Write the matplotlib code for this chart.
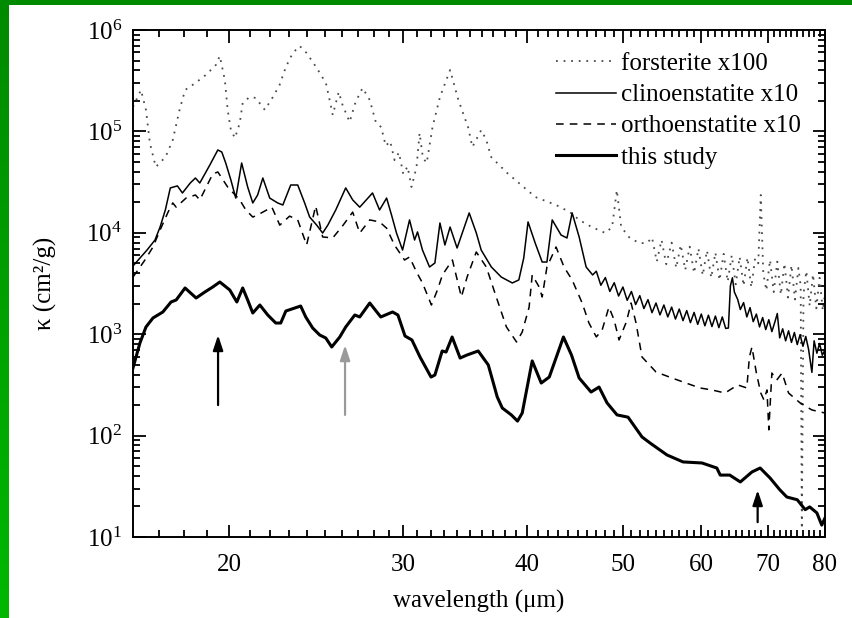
import numpy as np
import matplotlib
matplotlib.use("Agg")
import matplotlib.pyplot as plt
from matplotlib.colors import LinearSegmentedColormap
from matplotlib.ticker import FixedLocator, NullFormatter, FixedFormatter, LogLocator, LogFormatterSciNotation

plt.rcParams['font.family'] = ['Liberation Serif', 'DejaVu Serif']
plt.rcParams['mathtext.fontset'] = 'custom'
plt.rcParams['mathtext.rm'] = 'Liberation Serif'
plt.rcParams['mathtext.it'] = 'Liberation Serif:italic'

# ---- mass absorption coefficients (cm^2/g) versus wavelength (um) ----
this_wl = [16.0, 16.26, 16.49, 16.76, 17.15, 17.48, 17.69, 18.06, 18.53, 18.91, 19.26, 19.58,
           20.04, 20.37, 20.65, 20.89, 21.14, 21.49, 21.89, 22.30, 22.56, 22.83, 23.47, 23.63,
           23.91, 24.30, 24.70, 25.05, 25.40, 25.88, 26.24, 26.80, 27.11, 27.75, 28.47, 29.26,
           29.63, 30.12, 30.61, 31.19, 32.0, 32.29, 32.84, 33.14, 33.61, 34.24, 34.80, 35.71,
           36.56, 37.33, 37.77, 38.57, 39.13, 39.56, 40.49, 41.35, 42.13, 43.54, 44.36, 45.16,
           46.43, 47.30, 48.19, 49.32, 50.6, 52.27, 53.26, 55.4, 57.5, 60.1, 62.2, 62.7,
           64.1, 65.7, 67.5, 68.8, 70.4, 72.0, 73.2, 75.0, 76.4, 77.2, 78.5, 79.4, 80.0]
this_k = [465, 819, 1178, 1445, 1656, 2078, 2175, 2856, 2275, 2607, 2920, 3273,
          2728, 2078, 2856, 2175, 1618, 1941, 1546, 1289, 1289, 1693, 1854, 1897,
          1479, 1151, 982, 918, 748, 938, 1178, 1546, 1479, 2031, 1479, 1656,
          1546, 960, 877, 596, 378, 396, 683, 667, 938, 582, 624, 683,
          497, 240, 187, 160, 139, 167, 545, 330, 378, 938, 624, 370,
          269, 301, 210, 160, 152, 97, 84.5, 64.4, 55, 53.7, 47.9, 40.8,
          40.8, 34.9, 43.8, 47.9, 38.2, 29.3, 24.8, 23.3, 18.6, 19.8, 17.3, 13.1, 15.4]

clino_wl = [16.0, 16.26, 16.53, 16.84, 17.04, 17.25, 17.45, 17.74, 17.95, 18.28, 18.5, 18.69,
            19.13, 19.49, 19.67, 19.85, 20.09, 20.32, 20.60, 20.89, 21.14, 21.38, 21.64, 21.99,
            22.40, 22.67, 23.09, 23.47, 23.85, 24.13, 24.53, 24.87, 25.17, 25.64, 26.24, 26.67,
            27.11, 27.93, 28.39, 28.86, 29.19, 29.53, 29.95, 30.44, 30.80, 31.01, 31.37, 31.89,
            32.29, 32.67, 33.05, 33.45, 34.0, 34.97, 35.55, 35.96, 36.82, 37.68, 38.66, 39.25,
            39.7, 40.1, 40.77, 41.44, 41.9, 42.42, 42.9, 43.3, 43.9, 44.43, 45.16, 45.9, 46.6,
            47.0, 47.5, 48.0, 48.5, 49.0, 49.5, 50.0, 50.5, 51.0, 51.5, 52.0, 52.5, 53.0, 53.5,
            54.0, 54.5, 55.0, 55.5, 56.0, 56.5, 57.0, 57.5, 58.0, 58.5, 59.0, 59.5, 60.0, 60.5,
            61.0, 61.5, 62.0, 62.5, 63.0, 63.5, 63.9, 64.2, 64.5, 64.8, 65.3, 65.7, 66.2, 66.7,
            67.2, 67.7, 68.2, 68.7, 69.2, 69.7, 70.2, 70.7, 71.2, 71.6, 72.0, 72.5, 73.0, 73.5,
            74.0, 74.5, 75.0, 75.5, 76.0, 76.5, 77.0, 77.6, 78.0, 78.5, 79.0, 79.5, 80.0]
clino_k = [4710, 5640, 6760, 8490, 11400, 16800, 27700, 29000, 24700, 31000, 34700, 31000,
           46600, 65600, 62600, 48800, 33200, 22000, 48800, 28300, 19700, 23600, 34700, 22000,
           19700, 18800, 29600, 29600, 19700, 14300, 11900, 9950, 11900, 16800, 27700, 21100,
           17900, 24700, 16800, 22000, 15000, 9950, 6760, 13400, 8490, 10200, 6760, 4600,
           5040, 12500, 7580, 11400, 7080, 15700, 10000, 6760, 4600, 3660, 3200, 3430,
           5640, 12800, 7930, 5150, 5150, 13400, 11100, 9510, 8890, 15700, 9100, 4600, 3840,
           4180, 3040, 3620, 2640, 3220, 2380, 2920, 2160, 2640, 1960, 2400, 1790, 2190, 1630,
           2030, 1550, 1940, 1480, 1850, 1410, 1770, 1360, 1710, 1300, 1640, 1250, 1580, 1210,
           1540, 1190, 1510, 1160, 1480, 1140, 1150, 3000, 3600, 2600, 2200, 1750, 2050, 1480,
           1830, 1330, 1580, 1180, 1460, 1110, 1390, 1060, 1320, 1600, 920, 1130, 860, 1080,
           830, 1040, 790, 990, 760, 950, 710, 420, 860, 650, 810, 620, 700]

ortho_wl = [16.0, 16.45, 16.76, 17.04, 17.36, 17.55, 17.69, 18.1, 18.5, 18.69, 19.26, 19.49,
            19.94, 20.51, 20.8, 21.14, 21.38, 22.1, 22.51, 23.03, 23.47, 23.96, 24.47, 24.87,
            25.46, 26.05, 26.67, 27.11, 27.75, 28.39, 28.86, 29.39, 30.09, 30.44, 30.94, 31.37,
            32.03, 32.48, 32.86, 33.63, 34.34, 34.80, 35.55, 36.39, 37.24, 38.13, 39.04, 39.56,
            40.2, 40.49, 41.15, 41.44, 41.9, 42.8, 43.6, 44.43, 45.48, 46.2, 47.0, 47.64, 48.4,
            48.99, 49.55, 50.4, 50.96, 51.55, 52.27, 54.0, 56.04, 57.9, 59.8, 61.5, 63.4, 65.3,
            66.7, 67.1, 67.5, 68.2, 68.9, 69.4, 69.9, 70.2, 70.7, 71.5, 72.4, 73.5, 75.5, 77.6, 80.0]
ortho_k = [3660, 5390, 7240, 10650, 16000, 19700, 17900, 22000, 23600, 21100, 38000, 39800,
           28300, 21100, 16800, 14300, 15000, 17900, 11900, 14600, 13400, 7580, 18400, 9100,
           8900, 11700, 16000, 9950, 13400, 12800, 11100, 7580, 5390, 5770, 4100, 3200,
           1940, 2730, 3840, 5390, 2330, 3660, 6470, 4600, 2330, 1180, 838, 1050,
           1850, 3840, 2920, 2330, 4600, 7240, 4600, 3430, 2030, 1290, 940, 1100, 1850,
           1380, 877, 1320, 2030, 1290, 596, 424, 370, 330, 295, 282, 263, 316,
           295, 596, 748, 414, 263, 225, 282, 114, 414, 353, 414, 263, 210, 179, 167]

forst_wl = [16.0, 16.3, 16.49, 16.64, 16.87, 17.26, 17.55, 17.83, 18.06, 18.5, 18.95, 19.4,
            19.58, 19.81, 19.94, 20.09, 20.28, 20.51, 20.65, 20.98, 21.28, 21.74, 22.15, 22.5,
            22.83, 23.2, 23.58, 23.96, 24.53, 25.06, 25.34, 25.46, 25.82, 26.05, 26.48, 26.85,
            27.29, 27.75, 28.14, 28.5, 28.8, 29.1, 29.4, 29.7, 30.0, 30.3, 30.58, 30.94, 31.16,
            31.4, 31.68, 32.11, 32.67, 33.45, 34.1, 34.88, 35.23, 35.96, 36.39, 36.8, 38.2,
            39.25, 40.8, 42.8, 44.2, 45.16, 46.5, 48.0, 48.76, 49.3, 49.8, 50.8, 52.0, 52.9,
            53.5, 54.1, 54.7, 55.3, 56.0, 56.6, 57.2, 57.8, 58.4, 59.0, 59.6, 60.2, 60.8, 61.4,
            62.0, 62.6, 63.2, 63.8, 64.4, 65.0, 65.6, 66.2, 66.8, 67.4, 68.0, 68.5, 68.9, 69.3,
            69.8, 70.4, 71.0, 71.6, 72.2, 72.8, 73.4, 74.0, 74.6, 75.2, 75.6, 75.8, 76.1, 76.6,
            77.2, 77.8, 78.4, 79.0, 79.6, 80.0]
forst_k = [174000, 256000, 163000, 76900, 44600, 56000, 82300, 163000, 256000, 300000, 360000, 452000,
           554000, 321000, 163000, 103000, 86100, 121000, 191000, 218000, 214000, 163000, 218000, 287000,
           431000, 593000, 695000, 593000, 422000, 300000, 182000, 145000, 245000, 182000, 124000, 195000,
           268000, 204000, 124000, 110000, 72000, 80000, 52000, 62000, 38000, 45000, 28300, 44600, 96400,
           55000, 48800, 110000, 218000, 403000, 204000, 110000, 70200, 103000, 82300, 56000, 38900,
           31000, 22500, 18800, 16000, 13400, 11400, 9950, 11400, 26400, 11400, 8890, 7900, 7930,
           9000, 5200, 8500, 4900, 8000, 4500, 7600, 4300, 7300, 4000, 7000, 3800, 6700, 3600,
           6400, 3400, 6200, 3300, 6000, 3100, 5800, 3000, 5700, 2900, 5600, 5000, 23600, 4000,
           2700, 5400, 2600, 5200, 2450, 5000, 2300, 4800, 2200, 4500, 3000, 12, 2500, 4200,
           1900, 3900, 1800, 3600, 1700, 2500]

# arrows marking features: (wavelength, tail kappa, head kappa, colour)
arrow_wl = [19.5, 26.2, 68.4]
arrow_tail = [200, 160, 14]
arrow_head = [980, 780, 29]
arrow_col = ['black', '#9a9a9a', 'black']

x_major = [20, 30, 40, 50, 60, 70, 80]

fig = plt.figure(figsize=(8.52, 6.18), dpi=100)
fig.patch.set_facecolor('white')

# green frame strips along the left and top edges
side = fig.add_axes([0, 0, 8.5 / 852, 1])
grad = np.linspace(0, 1, 256).reshape(-1, 1)
gcmap = LinearSegmentedColormap.from_list('g', ['#00b800', '#008a00'])
side.imshow(grad, aspect='auto', cmap=gcmap, origin='lower', extent=[0, 1, 0, 1])
side.set_axis_off()
top = fig.add_axes([0, 1 - 4.5 / 618, 1, 4.5 / 618])
top.set_facecolor('#008a00')
top.set_xticks([]); top.set_yticks([])
for s in top.spines.values():
    s.set_visible(False)

ax = fig.add_axes([133 / 852, 1 - 537 / 618, (825 - 133) / 852, (537 - 30) / 618])

ax.plot(forst_wl, forst_k, color='#4a4a4a', lw=1.3, linestyle=(0, (1, 3.2)),
        label='forsterite x100')
ax.plot(clino_wl, clino_k, color='black', lw=1.1, label='clinoenstatite x10')
ax.plot(ortho_wl, ortho_k, color='black', lw=1.1, linestyle=(0, (5, 4)),
        label='orthoenstatite x10')
ax.plot(this_wl, this_k, color='black', lw=2.2, label='this study')

for wl, k0, k1, c in zip(arrow_wl, arrow_tail, arrow_head, arrow_col):
    ax.annotate('', xy=(wl, k1), xytext=(wl, k0),
                arrowprops=dict(arrowstyle='-|>,head_length=0.9,head_width=0.3',
                                color=c, lw=1.6, shrinkA=0, shrinkB=0))

ax.set_xscale('log')
ax.set_yscale('log')
ax.set_xlim(16, 80)
ax.set_ylim(10, 1e6)

ax.xaxis.set_major_locator(FixedLocator(x_major))
ax.xaxis.set_major_formatter(FixedFormatter([str(v) for v in x_major]))
ax.xaxis.set_minor_locator(FixedLocator([v for v in range(17, 80) if v not in x_major]))
ax.xaxis.set_minor_formatter(NullFormatter())
ax.yaxis.set_major_locator(LogLocator(base=10, numticks=10))
ax.yaxis.set_major_formatter(LogFormatterSciNotation())
ax.yaxis.set_minor_locator(LogLocator(base=10, subs=np.arange(2, 10), numticks=20))
ax.yaxis.set_minor_formatter(NullFormatter())

ax.tick_params(which='both', direction='in', top=True, right=True, width=1.3, labelsize=18)
ax.tick_params(which='major', length=9)
ax.tick_params(which='minor', length=5)
ax.tick_params(axis='x', which='major', pad=12)
ax.tick_params(axis='y', which='major', pad=8)
for s in ax.spines.values():
    s.set_linewidth(1.4)

ax.set_xlabel('wavelength (μm)', fontsize=18, labelpad=10)
ax.set_ylabel('κ (cm²/g)', fontsize=18, labelpad=21)

leg = ax.legend(loc='upper right', frameon=False, fontsize=18, handlelength=2.4,
                handletextpad=0.2, labelspacing=0.35, borderaxespad=0.5,
                bbox_to_anchor=(0.998, 1.0))

fig.savefig('out.png', dpi=100, facecolor='white')
